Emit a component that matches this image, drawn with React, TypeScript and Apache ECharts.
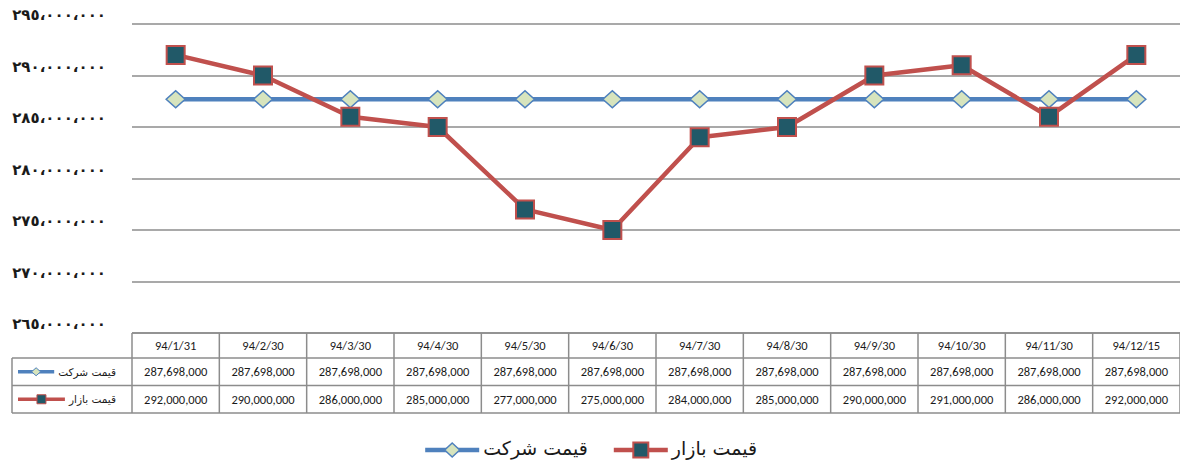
import { useEffect, useRef } from 'react';
import * as echarts from 'echarts';

const categories = ['94/1/31', '94/2/30', '94/3/30', '94/4/30', '94/5/30', '94/6/30', '94/7/30', '94/8/30', '94/9/30', '94/10/30', '94/11/30', '94/12/15'];
const companyName = 'قیمت شرکت';
const marketName = 'قیمت بازار';
const companyPrice = [287698000, 287698000, 287698000, 287698000, 287698000, 287698000, 287698000, 287698000, 287698000, 287698000, 287698000, 287698000];
const marketPrice = [292000000, 290000000, 286000000, 285000000, 277000000, 275000000, 284000000, 285000000, 290000000, 291000000, 286000000, 292000000];
const yMin = 265000000;
const yMax = 295000000;
const yInterval = 5000000;

const BLUE = '#4F81BD';
const RED = '#C0504D';
const DIAMOND_FILL = '#D7E4BD';
const SQUARE_FILL = '#215968';
const GRID = '#8C8C8C';
const PERSIAN_FONT = '"DejaVu Sans", sans-serif';
const NUM_FONT = 'Calibri, Lato, "Open Sans", sans-serif';

const arabicDigits = '٠١٢٣٤٥٦٧٨٩';
function toArabicNumber(v: number): string {
  const s = Math.round(v).toString();
  let out = '';
  for (let i = 0; i < s.length; i++) {
    const fromEnd = s.length - i;
    out += arabicDigits[Number(s[i])];
    if (fromEnd > 1 && (fromEnd - 1) % 3 === 0) out += '،';
  }
  return out;
}
const fmt = (v: number) => v.toLocaleString('en-US');

function measure(text: string, font: string): number {
  const ctx = document.createElement('canvas').getContext('2d');
  if (!ctx) return text.length * 8;
  ctx.font = font;
  return ctx.measureText(text).width;
}

function diamond(cx: number, cy: number, hw: number, hh: number, stroke: number) {
  return {
    type: 'polygon',
    shape: { points: [[cx, cy - hh], [cx + hw, cy], [cx, cy + hh], [cx - hw, cy]] },
    style: { fill: DIAMOND_FILL, stroke: BLUE, lineWidth: stroke },
    silent: true,
  };
}
function square(cx: number, cy: number, half: number, stroke: number) {
  return {
    type: 'rect',
    shape: { x: cx - half, y: cy - half, width: half * 2, height: half * 2 },
    style: { fill: SQUARE_FILL, stroke: RED, lineWidth: stroke },
    silent: true,
  };
}

export default function App() {
  const ref = useRef<HTMLDivElement>(null);
  useEffect(() => {
    if (!ref.current) return;
    const chart = echarts.init(ref.current, null, { renderer: 'svg' });
    const option: any = {
      animation: false,
      grid: { left: 132, top: 24, width: 1056, height: 309 },
      xAxis: {
        type: 'category',
        data: categories,
        boundaryGap: true,
        axisLine: { show: false },
        axisTick: { show: false },
        axisLabel: { show: false },
        splitLine: { show: false },
      },
      yAxis: {
        type: 'value',
        min: yMin,
        max: yMax,
        interval: yInterval,
        axisLine: { show: false },
        axisTick: { show: false },
        axisLabel: {
          formatter: (v: number) => toArabicNumber(v),
          fontSize: 15,
          fontWeight: 'bold',
          color: '#1a1a1a',
          fontFamily: PERSIAN_FONT,
          margin: 26,
          verticalAlign: 'bottom',
          lineHeight: 18,
        },
        splitLine: { lineStyle: { color: GRID, width: 1.5 } },
      },
      series: [
        {
          name: companyName,
          type: 'line',
          data: companyPrice,
          symbol: 'diamond',
          symbolSize: [19, 17],
          showAllSymbol: true,
          lineStyle: { color: BLUE, width: 4.5 },
          itemStyle: { color: DIAMOND_FILL, borderColor: BLUE, borderWidth: 1.5 },
          z: 2,
        },
        {
          name: marketName,
          type: 'line',
          data: marketPrice,
          symbol: 'rect',
          symbolSize: 18,
          showAllSymbol: true,
          lineStyle: { color: RED, width: 4.5 },
          itemStyle: { color: SQUARE_FILL, borderColor: RED, borderWidth: 2 },
          z: 3,
        },
      ],
    };
    chart.setOption(option);

    const x0 = chart.convertToPixel({ xAxisIndex: 0 }, 0) as number;
    const x1 = chart.convertToPixel({ xAxisIndex: 0 }, 1) as number;
    const colW = x1 - x0;
    const tableLeft = x0 - colW / 2;
    const tableRight = tableLeft + colW * categories.length;
    const top = chart.convertToPixel({ yAxisIndex: 0 }, yMin) as number;
    const headerH = 25;
    const rowH = 27.5;
    const r1 = top + headerH;
    const r2 = r1 + rowH;
    const r3 = r2 + rowH;
    const outerLeft = 12;
    const lineStyle = { stroke: GRID, lineWidth: 1.5 };
    const els: any[] = [];
    const hline = (y: number, xa: number, xb: number) =>
      els.push({ type: 'line', shape: { x1: xa, y1: y, x2: xb, y2: y }, style: lineStyle, silent: true });
    const vline = (x: number, ya: number, yb: number) =>
      els.push({ type: 'line', shape: { x1: x, y1: ya, x2: x, y2: yb }, style: lineStyle, silent: true });
    hline(top, tableLeft, tableRight);
    hline(r1, outerLeft, tableRight);
    hline(r2, outerLeft, tableRight);
    hline(r3, outerLeft, tableRight);
    vline(outerLeft, r1, r3);
    for (let k = 0; k <= categories.length; k++) vline(tableLeft + k * colW, top, r3);
    categories.forEach((c, i) => {
      const cx = chart.convertToPixel({ xAxisIndex: 0 }, i) as number;
      const mk = (text: string, y: number) =>
        els.push({
          type: 'text',
          x: cx,
          y,
          style: { text, fill: '#1a1a1a', font: `12.5px ${NUM_FONT}`, textAlign: 'center', textVerticalAlign: 'middle' },
          silent: true,
        });
      mk(c, (top + r1) / 2);
      mk(fmt(companyPrice[i]), (r1 + r2) / 2);
      mk(fmt(marketPrice[i]), (r2 + r3) / 2);
    });
    // row headers
    const headFont = `10.5px ${PERSIAN_FONT}`;
    const rowHead = (name: string, y: number, color: string, mk: (cx: number) => any) => {
      const w = measure(name, headFont);
      const textStart = 116 - w;
      const lineEnd = Math.min(70, textStart - 4);
      els.push({ type: 'line', shape: { x1: 18, y1: y, x2: lineEnd, y2: y }, style: { stroke: color, lineWidth: 3.5 }, silent: true });
      els.push(mk((18 + lineEnd) / 2));
      els.push({
        type: 'text',
        x: 116,
        y,
        style: { text: name, fill: '#1a1a1a', font: headFont, textAlign: 'right', textVerticalAlign: 'middle' },
        silent: true,
      });
    };
    const y1 = (r1 + r2) / 2;
    const y2 = (r2 + r3) / 2;
    rowHead(companyName, y1, BLUE, (cx) => diamond(cx, y1, 4.5, 4, 1));
    rowHead(marketName, y2, RED, (cx) => square(cx, y2, 4.5, 1));

    // legend (bottom), laid out right-to-left
    const ly = 450;
    const legendFont = `19px ${PERSIAN_FONT}`;
    const legendItem = (textEnd: number, name: string, color: string, mk: (cx: number) => any) => {
      const w = measure(name, legendFont);
      const textStart = textEnd - w;
      const lineEnd = textStart - 4;
      const lineStart = lineEnd - 54;
      els.push({ type: 'line', shape: { x1: lineStart, y1: ly, x2: lineEnd, y2: ly }, style: { stroke: color, lineWidth: 4.5 }, silent: true });
      els.push(mk((lineStart + lineEnd) / 2));
      els.push({
        type: 'text',
        x: textEnd,
        y: ly - 2,
        style: { text: name, fill: '#1a1a1a', font: legendFont, textAlign: 'right', textVerticalAlign: 'middle' },
        silent: true,
      });
      return lineStart;
    };
    const redStart = legendItem(757, marketName, RED, (cx) => square(cx, ly, 7.5, 2));
    legendItem(redStart - 26, companyName, BLUE, (cx) => diamond(cx, ly, 7.5, 7, 1.5));

    chart.setOption({ graphic: { elements: els } });

    return () => chart.dispose();
  }, []);
  return <div ref={ref} style={{ position: 'absolute', left: 0, top: 0, width: 1180, height: 462 }} />;
}
